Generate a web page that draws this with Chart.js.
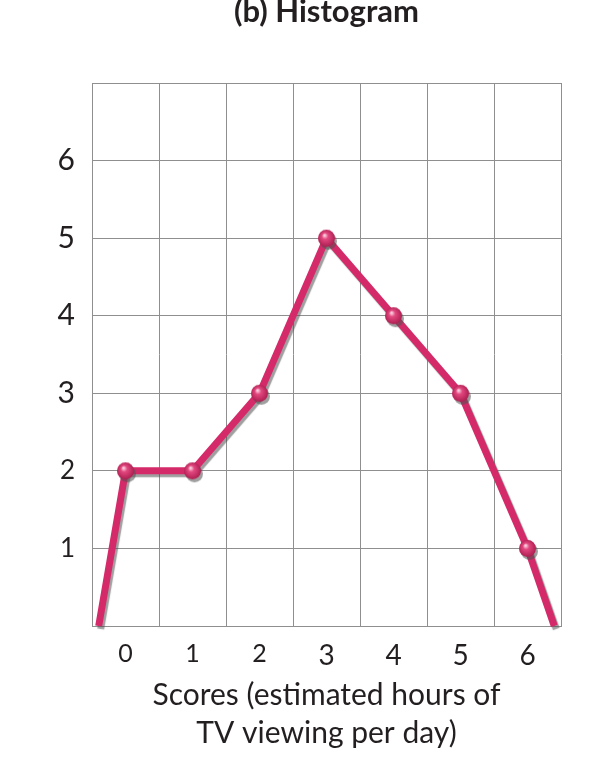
<!DOCTYPE html>
<html>
<head>
<meta charset="utf-8">
<script src="https://cdn.jsdelivr.net/npm/chart.js@4.4.1/dist/chart.umd.min.js"></script>
<style>
    html, body {margin: 0; padding: 0; background: #fff;}
    #caixa {width: 592px; height: 764px;}
</style>
</head>
<body>
<div id="caixa"><canvas id="grafico"></canvas></div>
<script>
// dados
const categorias = [0, 1, 2, 3, 4, 5, 6];          // horas de TV por dia
const frequencias = [2, 2, 3, 5, 4, 3, 1];
const inicioX = -0.4;   // o poligono fecha no eixo, logo fora das classes
const fimX = 6.4;
const rotulosY = [1, 2, 3, 4, 5, 6];
const limitesY = [0, 7];

// limites das classes (linhas verticais da grade)
const limitesX = categorias.map(c => c - 0.5).concat([categorias[categorias.length - 1] + 0.5]);

const pontos = [{x: inicioX, y: 0}]
    .concat(categorias.map((c, i) => ({x: c, y: frequencias[i]})))
    .concat([{x: fimX, y: 0}]);

const corLinha = '#d52a69';
const corGrade = '#8f8f8f';
const fonte = 'Lato, "Open Sans", sans-serif';

// bolinha com brilho, como na figura
function criarBolinha() {
    const r = 8.5;
    const cv = document.createElement('canvas');
    cv.width = cv.height = 19;
    const g = cv.getContext('2d');
    const grad = g.createRadialGradient(r - 1, r - 2, 0.5, r + 1, r + 1, r + 1);
    grad.addColorStop(0, '#fbd3e2');
    grad.addColorStop(0.3, '#e2487f');
    grad.addColorStop(1, '#a8194c');
    g.fillStyle = grad;
    g.beginPath();
    g.arc(9.5, 9.5, r, 0, Math.PI * 2);
    g.fill();
    return cv;
}
const bolinha = criarBolinha();

// sombra cinza atras da linha
const sombra = {
    id: 'sombra',
    beforeDatasetsDraw(chart) {
        const c = chart.ctx;
        c.save();
        c.shadowColor = 'rgba(80, 80, 80, 0.55)';
        c.shadowOffsetX = 2;
        c.shadowOffsetY = 3;
        c.shadowBlur = 1;
    },
    afterDatasetsDraw(chart) {
        chart.ctx.restore();
    }
};

// algarismos "antigos": 0, 1 e 2 menores
function tamanhoDigito(ctx, grande, pequeno) {
    if (!ctx.tick) return grande;
    return ctx.tick.value <= 2 ? pequeno : grande;
}

const graf = document.getElementById('grafico').getContext('2d');
const meuGrafico = new Chart(graf, {
    type: 'line',
    data: {
        datasets: [{
            label: 'Frequência',
            data: pontos,
            borderColor: corLinha,
            borderWidth: 7,
            tension: 0,
            clip: false,
            pointStyle: bolinha,
            pointRadius: ctx => (ctx.dataIndex === 0 || ctx.dataIndex === pontos.length - 1) ? 0 : 8,
            pointHoverRadius: 0
        }]
    },
    plugins: [sombra],
    options: {
        responsive: true,
        maintainAspectRatio: false,
        animation: false,
        layout: {padding: {top: -4, right: 31, left: 0, bottom: 0}},
        plugins: {
            legend: {display: false},
            tooltip: {enabled: false},
            title: {
                display: true,
                text: '(b) Histogram',
                fullSize: false,
                color: '#231f20',
                font: {family: fonte, size: 31, weight: 'bold', lineHeight: 1},
                padding: {top: 0, bottom: 56}
            }
        },
        scales: {
            x: {
                type: 'linear',
                min: limitesX[0],
                max: limitesX[limitesX.length - 1],
                afterBuildTicks: s => { s.ticks = limitesX.map(v => ({value: v})); },
                ticks: {display: false},
                grid: {color: corGrade, lineWidth: 1, drawTicks: false},
                border: {color: corGrade, width: 1}
            },
            x2: {
                type: 'linear',
                position: 'bottom',
                weight: 1,
                min: limitesX[0],
                max: limitesX[limitesX.length - 1],
                afterBuildTicks: s => { s.ticks = categorias.map(v => ({value: v})); },
                afterFit: s => { s.height = 138; },
                grid: {display: false, drawTicks: false},
                border: {display: false},
                ticks: {
                    color: '#231f20',
                    padding: 13,
                    autoSkip: false,
                    maxRotation: 0,
                    font: ctx => ({family: fonte, size: tamanhoDigito(ctx, 28, 25)})
                },
                title: {
                    display: true,
                    text: ['Scores (estimated hours of', 'TV viewing per day)'],
                    color: '#231f20',
                    font: {family: fonte, size: 30, lineHeight: 1.25},
                    padding: {top: 0, bottom: 12}
                }
            },
            y: {
                min: limitesY[0],
                max: limitesY[1],
                afterFit: s => { s.width = 92; },
                ticks: {
                    stepSize: 1,
                    color: '#231f20',
                    padding: 17,
                    callback: v => rotulosY.includes(v) ? String(v) : '',
                    font: ctx => ({family: fonte, size: tamanhoDigito(ctx, 30, 26)})
                },
                grid: {color: corGrade, lineWidth: 1, drawTicks: false},
                border: {color: corGrade, width: 1}
            }
        }
    }
});
</script>
</body>
</html>
